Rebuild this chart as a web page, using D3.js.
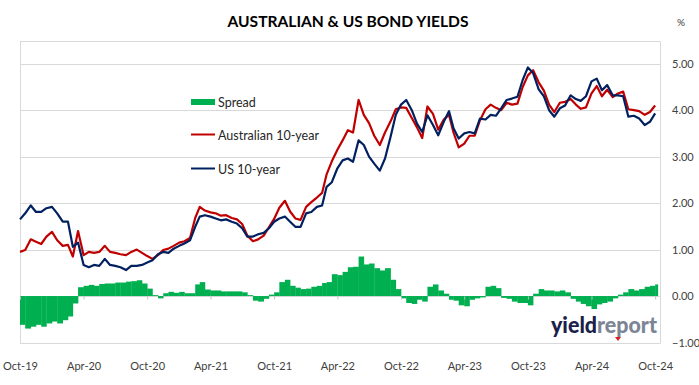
<!DOCTYPE html>
<html>
<head>
<meta charset="utf-8">
<script src="https://cdn.jsdelivr.net/npm/d3@7"></script>
<style>
	body { margin: 0; background: #fff; }
	svg text { font-family: Lato, "Open Sans", sans-serif; }
</style>
</head>
<body>
<div id="chart"></div>
<script>
/* ------------------------------------------------------------------
 AUSTRALIAN & US BOND YIELDS - semi-monthly readings, Oct-19 to Oct-24
 -------------------------------------------------------------------- */

var w = 699,
	h = 385;

var xTickLabels = ["Oct-19","Apr-20","Oct-20","Apr-21","Oct-21","Apr-22","Oct-22","Apr-23","Oct-23","Apr-24","Oct-24"];
var yTicks = [-1, 0, 1, 2, 3, 4, 5];

// 10-year yields, % (1st and 16th of each month)
var us10 = [
	1.65,1.78,1.95,1.81,1.81,1.89,1.92,1.78,1.60,1.60,
	1.06,1.15,0.67,0.62,0.67,0.65,0.80,0.67,0.65,0.62,
	0.56,0.65,0.65,0.67,0.72,0.77,0.90,0.95,0.93,1.02,
	1.08,1.13,1.20,1.49,1.71,1.74,1.71,1.67,1.63,1.65,
	1.60,1.56,1.46,1.28,1.28,1.33,1.36,1.46,1.60,1.67,
	1.71,1.60,1.49,1.49,1.78,1.81,1.92,1.95,2.35,2.45,
	2.75,2.92,2.96,2.89,3.35,3.25,3.00,2.85,2.70,2.96,
	3.43,3.90,4.12,4.22,4.00,3.71,3.53,3.89,3.68,3.46,
	3.75,3.98,3.61,3.39,3.50,3.53,3.50,3.82,3.80,3.90,
	3.88,4.04,4.22,4.25,4.29,4.65,4.92,4.80,4.45,4.30,
	4.00,3.86,4.04,4.10,4.32,4.24,4.20,4.30,4.62,4.68,
	4.43,4.54,4.32,4.32,4.30,3.86,3.88,3.82,3.68,3.75,
	3.93
];
var au10 = [
	0.95,0.99,1.22,1.17,1.12,1.28,1.38,1.20,1.08,1.10,
	0.85,1.40,0.88,0.95,0.93,0.95,1.08,0.95,0.93,0.90,
	0.88,0.95,1.00,0.93,0.86,0.80,0.88,0.99,1.02,1.08,
	1.15,1.18,1.25,1.68,1.92,1.84,1.80,1.78,1.73,1.74,
	1.68,1.65,1.55,1.30,1.18,1.22,1.30,1.48,1.66,1.90,
	2.05,1.82,1.67,1.64,1.92,2.02,2.12,2.22,2.62,2.90,
	3.15,3.35,3.57,3.52,4.22,3.90,3.72,3.45,3.25,3.52,
	3.76,4.02,4.06,4.05,3.83,3.63,3.40,4.08,3.92,3.58,
	3.80,3.90,3.52,3.20,3.28,3.45,3.45,3.78,4.02,4.12,
	4.05,4.00,4.16,4.12,4.14,4.50,4.75,4.86,4.60,4.42,
	4.12,3.96,4.16,4.18,4.24,4.12,4.03,4.06,4.36,4.52,
	4.30,4.44,4.28,4.36,4.40,4.02,4.00,3.98,3.90,3.96,
	4.10
];
// spread bars (Australian minus US), % points
var spread = [
	-0.62,-0.70,-0.66,-0.62,-0.66,-0.59,-0.55,-0.59,-0.52,-0.44,
	-0.16,0.19,0.22,0.24,0.22,0.26,0.27,0.27,0.29,0.29,
	0.31,0.32,0.34,0.27,0.16,0.02,-0.05,0.06,0.09,0.07,
	0.09,0.06,0.06,0.25,0.30,0.14,0.12,0.12,0.10,0.10,
	0.10,0.10,0.08,0.02,-0.10,-0.12,-0.06,0.03,0.08,0.30,
	0.35,0.22,0.18,0.15,0.16,0.20,0.22,0.28,0.30,0.47,
	0.45,0.52,0.62,0.63,0.85,0.68,0.70,0.60,0.55,0.60,
	0.35,0.15,-0.05,-0.15,-0.17,-0.08,-0.12,0.20,0.25,0.12,
	0.05,-0.08,-0.10,-0.20,-0.22,-0.08,-0.05,-0.03,0.20,0.22,
	0.17,-0.04,-0.06,-0.12,-0.15,-0.15,-0.20,0.05,0.15,0.12,
	0.12,0.10,0.12,0.08,-0.06,-0.12,-0.17,-0.22,-0.28,-0.18,
	-0.15,-0.12,-0.05,0.03,0.08,0.15,0.12,0.15,0.20,0.22,
	0.25
];

var dates = us10.map(function(d,i){
	return new Date(2019, 9 + Math.floor(i/2), i % 2 ? 16 : 1);
});

var svg = d3.select("#chart")
	.append("svg")
	.attr("width",w)
	.attr("height",h);

var x = d3.scaleTime()
	.domain([new Date(2019,9,1), new Date(2024,9,15)])
	.range([20,660]);

var y = d3.scaleLinear()
	.domain([-1,5.5])
	.range([342.5,40.5]);

// gridlines + frame
svg.selectAll("line.grid")
	.data(yTicks.concat([5.5]))
	.enter()
	.append("line")
	.classed("grid",true)
	.attr("x1",20).attr("x2",660)
	.attr("y1",function(d){ return Math.round(y(d))+0.5; })
	.attr("y2",function(d){ return Math.round(y(d))+0.5; })
	.style("stroke","#d9d9d9")
	.style("stroke-width",1);

svg.selectAll("line.frame")
	.data([20,660])
	.enter()
	.append("line")
	.classed("frame",true)
	.attr("x1",function(d){ return d+0.5; })
	.attr("x2",function(d){ return d+0.5; })
	.attr("y1",Math.round(y(5.5))+0.5)
	.attr("y2",Math.round(y(-1))+0.5)
	.style("stroke","#d9d9d9");

// spread bars
svg.append("g")
	.selectAll("rect")
	.data(spread)
	.enter()
	.append("rect")
	.attr("x",function(d,i){ return x(dates[i]); })
	.attr("width",function(d,i){
		return i < dates.length-1 ? x(dates[i+1]) - x(dates[i]) + 0.3 : 3;
	})
	.attr("y",function(d){ return y(Math.max(0,d)); })
	.attr("height",function(d){ return Math.abs(y(d) - y(0)); })
	.style("fill","#00b050");

// small ticks on the zero line
var tickDates = xTickLabels.map(d3.timeParse("%b-%y"));

svg.append("g")
	.attr("transform","translate(0,"+(Math.round(y(0))+0.5)+")")
	.call(d3.axisBottom(x).tickValues(tickDates).tickSize(3).tickFormat(""))
	.call(function(g){ g.select(".domain").remove(); })
	.selectAll("line")
	.style("stroke","#bfbfbf");

// yield lines
var line = function(vals){
	return d3.line()
		.x(function(d,i){ return x(dates[i]); })
		.y(function(d){ return y(d); })(vals);
};

svg.append("path")
	.attr("d",line(au10))
	.style("fill","none")
	.style("stroke","#c00000")
	.style("stroke-width",2.2)
	.style("stroke-linejoin","round");

svg.append("path")
	.attr("d",line(us10))
	.style("fill","none")
	.style("stroke","#002060")
	.style("stroke-width",2.2)
	.style("stroke-linejoin","round");

// axes
svg.append("g")
	.attr("transform","translate(0,342)")
	.call(d3.axisBottom(x).tickValues(tickDates).tickSize(0).tickPadding(20)
		.tickFormat(function(d,i){ return xTickLabels[i]; }))
	.call(function(g){ g.select(".domain").remove(); })
	.selectAll("text")
	.style("font-size","11px")
	.style("fill","#404040");

svg.append("g")
	.attr("transform","translate(660,0)")
	.call(d3.axisRight(y).tickValues(yTicks).tickSize(0).tickPadding(12).tickFormat(d3.format(".2f")))
	.call(function(g){ g.select(".domain").remove(); })
	.selectAll("text")
	.style("font-size","11px")
	.style("fill","#404040");

svg.append("text")
	.attr("x",681).attr("y",26)
	.attr("text-anchor","middle")
	.style("font-size","10px")
	.style("fill","#404040")
	.text("%");

// title
svg.append("text")
	.attr("x",348).attr("y",27)
	.attr("text-anchor","middle")
	.attr("textLength",241)
	.attr("lengthAdjust","spacingAndGlyphs")
	.style("font-size","16px")
	.style("font-weight","bold")
	.style("fill","#000")
	.text("AUSTRALIAN & US BOND YIELDS");

// legend
var legend = svg.append("g").attr("transform","translate(191,0)");
legend.append("rect")
	.attr("x",0).attr("y",99).attr("width",24).attr("height",6)
	.style("fill","#00b050");
legend.append("line")
	.attr("x1",0).attr("x2",24).attr("y1",134.5).attr("y2",134.5)
	.style("stroke","#c00000").style("stroke-width",2);
legend.append("line")
	.attr("x1",0).attr("x2",24).attr("y1",168.5).attr("y2",168.5)
	.style("stroke","#002060").style("stroke-width",2);
legend.selectAll("text")
	.data([["Spread",106.5],["Australian 10-year",139.5],["US 10-year",173.5]])
	.enter()
	.append("text")
	.attr("x",27)
	.attr("y",function(d){ return d[1]; })
	.style("font-size","12.5px")
	.style("fill","#262626")
	.text(function(d){ return d[0]; });

// yieldreport logo
var logo = svg.append("text")
	.attr("x",551).attr("y",333)
	.attr("textLength",106)
	.attr("lengthAdjust","spacingAndGlyphs")
	.style("font-size","23px")
	.style("font-weight","900");
logo.append("tspan").style("fill","#1c1f4a").text("yield");
logo.append("tspan").style("fill","#7b8596").text("report");

svg.append("path")
	.attr("d","M615,337L621,337L618,341Z")
	.style("fill","#e0191f");
</script>
</body>
</html>
